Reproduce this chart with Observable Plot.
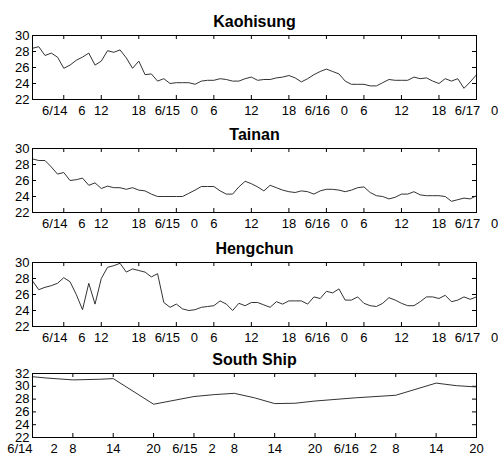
<!DOCTYPE html>
<html><head><meta charset="utf-8">
<script src="https://cdn.jsdelivr.net/npm/d3@7"></script>
<script src="https://cdn.jsdelivr.net/npm/@observablehq/plot@0.6"></script>
<style>
body{margin:0;background:#fff;}
#c{position:relative;width:498px;height:456px;overflow:hidden;}
#c>div{position:absolute;left:0;}
svg{overflow:visible;}
</style></head><body><div id="c"></div>
<script>
// hours since 6/14 00:00 (hourly observations 6/14 01:00 .. 6/17 00:00)
const hours = d3.range(1, 73);

const kaohsiung = [
  28.4,28.6,27.5,27.8,27.3,25.9,26.3,26.9,27.3,27.8,26.3,26.8,
  28.1,27.9,28.2,27.2,25.9,26.8,25.1,25.2,24.3,24.6,24.0,24.1,
  24.1,24.1,23.9,24.3,24.4,24.4,24.6,24.5,24.3,24.3,24.6,24.8,
  24.4,24.5,24.5,24.7,24.8,25.0,24.7,24.2,24.6,25.1,25.5,25.8,
  25.5,25.2,24.3,23.9,23.9,23.9,23.7,23.7,24.1,24.5,24.4,24.4,
  24.4,24.8,24.6,24.7,24.3,24.0,24.6,24.3,24.6,23.4,24.2,25.1
];
const tainan = [
  28.7,28.5,28.5,27.7,26.8,27.0,26.0,26.1,26.3,25.4,25.7,25.0,
  25.3,25.1,25.1,24.9,25.1,24.8,24.7,24.3,24.0,24.0,24.0,24.0,
  24.0,24.4,24.8,25.25,25.25,25.25,24.7,24.3,24.3,25.2,25.9,25.6,
  25.2,24.7,25.4,25.1,24.8,24.6,24.5,24.7,24.6,24.3,24.7,24.9,
  24.9,24.8,24.6,24.8,25.1,25.2,24.5,24.1,24.0,23.7,23.9,24.3,
  24.3,24.6,24.2,24.1,24.1,24.1,24.0,23.4,23.6,23.8,23.7,24.1
];
const hengchun = [
  27.7,26.6,26.9,27.1,27.4,28.1,27.6,26.0,24.1,27.4,24.8,28.0,
  29.4,29.6,29.9,28.8,29.2,29.0,28.8,28.2,28.6,25.0,24.4,24.8,
  24.2,24.0,24.1,24.4,24.5,24.6,25.2,24.8,24.0,24.9,24.6,25.0,
  25.0,24.7,24.4,25.1,24.8,25.2,25.2,25.2,24.8,25.7,25.5,26.4,
  26.2,26.7,25.3,25.3,25.7,24.9,24.6,24.5,24.9,25.6,25.3,24.9,
  24.6,24.6,25.1,25.7,25.7,25.5,25.9,25.1,25.3,25.7,25.4,25.7
];
const shipHours = [2,4,8,12,14,20,26,29,32,35,38,41,44,50,56,62,65,68];
const southShip = [31.5,31.3,31.0,31.1,31.2,27.2,28.4,28.7,28.9,28.2,27.3,27.35,27.7,28.2,28.6,30.5,30.1,29.9];

const sp = "\u00a0\u00a0\u00a0";
const stationTicks = [6,12,18,24,30,36,42,48,54,60,66,72];
const stationLabels = ["6/14"+sp+"6","12","18","6/15"+sp+"0","6","12","18","6/16"+sp+"0","6","12","18","6/17"+sp+"0"];
const shipTicks = [2,8,14,20,26,32,38,44,50,56,62,68];
const shipLabels = ["6/14\u00a0\u00a0\u00a0\u00a0\u00a02","8","14","20","6/15"+sp+"2","8","14","20","6/16"+sp+"2","8","14","20"];
const tempTicks = [22,24,26,28,30];
const shipTempTicks = [22,24,26,28,30,32];

const titles = ["Kaohisung","Tainan","Hengchun","South Ship"];

function panel({title, xs, ys, xDomain, xTicks, xLabels, yDomain, yTicks, top, height}) {
  const data = xs.map((x, i) => ({x, y: ys[i]}));
  const fh = 64, fw = 444, tl = 4;
  const plot = Plot.plot({
    width: 498, height,
    marginLeft: 32, marginRight: 22, marginTop: 26, marginBottom: height - 26 - fh,
    style: {fontFamily: "'Liberation Sans', Arial, sans-serif", fontSize: "13px", color: "#000", background: "#fff", overflow: "visible"},
    x: {domain: xDomain},
    y: {domain: yDomain},
    marks: [
      Plot.axisX({ticks: xTicks, tickSize: 0, tickPadding: 6, label: null, tickFormat: d => xLabels[xTicks.indexOf(d)], fill: "#000"}),
      Plot.axisY({ticks: yTicks, tickSize: 0, tickPadding: 3, label: null, fill: "#000"}),
      Plot.tickX(xTicks, {x: d => d, insetTop: fh - tl, stroke: "#000"}),
      Plot.tickX(xTicks, {x: d => d, insetBottom: fh - tl, stroke: "#000"}),
      Plot.tickY(yTicks, {y: d => d, insetRight: fw - tl, stroke: "#000"}),
      Plot.tickY(yTicks, {y: d => d, insetLeft: fw - tl, stroke: "#000"}),
      Plot.line(data, {x: "x", y: "y", stroke: "#333", strokeWidth: 1}),
      Plot.frame({stroke: "#000"}),
      Plot.text([title], {text: d => d, frameAnchor: "top", dy: -9, lineAnchor: "bottom", fontWeight: "bold", fontSize: 16, fill: "#000"})
    ]
  });
  const div = document.createElement("div");
  div.style.top = top + "px";
  div.appendChild(plot);
  document.getElementById("c").appendChild(div);
}

panel({title: titles[0], xs: hours, ys: kaohsiung, xDomain: [1, 72], xTicks: stationTicks, xLabels: stationLabels, yDomain: [22, 30], yTicks: tempTicks, top: 9, height: 113});
panel({title: titles[1], xs: hours, ys: tainan, xDomain: [1, 72], xTicks: stationTicks, xLabels: stationLabels, yDomain: [22, 30], yTicks: tempTicks, top: 122, height: 114});
panel({title: titles[2], xs: hours, ys: hengchun, xDomain: [1, 72], xTicks: stationTicks, xLabels: stationLabels, yDomain: [22, 30], yTicks: tempTicks, top: 236, height: 111});
panel({title: titles[3], xs: shipHours, ys: southShip, xDomain: [2, 68], xTicks: shipTicks, xLabels: shipLabels, yDomain: [22, 32], yTicks: shipTempTicks, top: 347, height: 109});
</script></body></html>
